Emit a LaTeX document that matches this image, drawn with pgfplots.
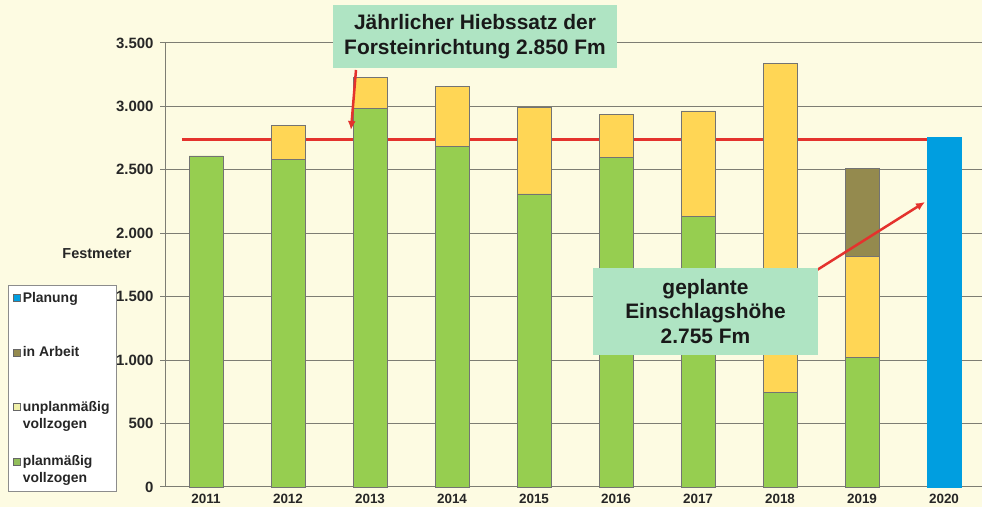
\documentclass[border=0pt]{standalone}
\usepackage{pgfplots}
\pgfplotsset{compat=1.18}
\usepackage{fontspec}
\setmainfont{Liberation Sans}
\usetikzlibrary{arrows.meta}
\definecolor{bgc}{RGB}{253,251,226}
\definecolor{cgreen}{RGB}{150,206,80}
\definecolor{cyellow}{RGB}{255,214,85}
\definecolor{colive}{RGB}{148,138,78}
\definecolor{cblue}{RGB}{0,158,224}
\definecolor{cmint}{RGB}{175,228,195}
\definecolor{cred}{RGB}{228,50,45}
\definecolor{cgrid}{RGB}{125,125,115}
\definecolor{cpale}{RGB}{240,240,170}
\begin{document}
\begin{tikzpicture}[x=1bp,y=1bp]
\fill[bgc] (0,0) rectangle (982,507);
\useasboundingbox (0,0) rectangle (982,507);
\begin{axis}[
  at={(165bp,20bp)}, anchor=south west,
  scale only axis, width=820bp, height=444bp,
  xmin=-0.5, xmax=9.5, ymin=0, ymax=3500,
  ybar stacked, bar width=34bp,
  axis x line=bottom, axis y line=left,
  axis line style={cgrid, line width=1bp, -},
  xtick=data,
  xticklabels={2011,2012,2013,2014,2015,2016,2017,2018,2019,2020},
  x tick style={draw=none},
  ytick={0,500,...,3500},
  y tick style={cgrid, line width=1bp},
  tick align=outside, major tick length=5bp,
  ymajorgrids, grid style={cgrid, line width=1bp},
  /pgf/number format/.cd, 1000 sep={.}, assume math mode=true,
  /pgfplots/.cd,
  yticklabel style={font=\fontsize{15}{15}\selectfont\bfseries, text=black!85, xshift=-3bp},
  xticklabel style={font=\fontsize{13.5}{13.5}\selectfont\bfseries, text=black!85, yshift=1bp},
  every axis plot/.append style={draw=black!55, line width=0.6bp},
  reverse legend,
  legend cell align=left,
  legend style={at={(-0.1915,0.455)}, anchor=north west, draw=black!45,
    fill=white, font=\fontsize{14}{17}\selectfont\bfseries, text=black!85,
    row sep=22bp, inner xsep=5bp, inner ysep=5bp,
    cells={align=left}},
  legend image code/.code={\fill[#1,draw=black!60] (0bp,5bp) rectangle (7bp,12bp);},
  clip=false,
]
\addplot[fill=cgreen, legend image code/.code={\fill[cgreen!80!gray,draw=black!60] (0bp,5bp) rectangle (7bp,12bp);}] coordinates {(0,2610) (1,2580) (2,2985) (3,2685) (4,2310) (5,2600) (6,2130) (7,745) (8,1020) (9,0)};
\addlegendentry{planmäßig\\vollzogen}
\addplot[fill=cyellow, legend image code/.code={\fill[cpale,draw=black!60] (0bp,5bp) rectangle (7bp,12bp);}] coordinates {(0,0) (1,270) (2,245) (3,470) (4,680) (5,340) (6,835) (7,2595) (8,800) (9,0)};
\addlegendentry{unplanmäßig\\vollzogen}
\addplot[fill=colive] coordinates {(0,0) (1,0) (2,0) (3,0) (4,0) (5,0) (6,0) (7,0) (8,690) (9,0)};
\addlegendentry{in Arbeit\\\strut}
\addplot[fill=cblue, draw=cblue] coordinates {(0,0) (1,0) (2,0) (3,0) (4,0) (5,0) (6,0) (7,0) (8,0) (9,2755)};
\addlegendentry{Planung\\\strut}
\draw[cred, line width=3bp] (axis cs:-0.293,2740) -- (axis cs:8.99,2740);
\end{axis}
\node[font=\fontsize{14.5}{14.5}\selectfont\bfseries, text=black!85] at (97,253) {Festmeter};
\draw[cred, line width=2.5bp, -{Latex[length=9bp,width=8bp]}] (356,437) -- (351,377);
\draw[cred, line width=2.5bp, -{Latex[length=9bp,width=8bp]}] (817,237) -- (925,305);
\node[fill=cmint, minimum width=284bp, minimum height=63bp, align=center,
  font=\fontsize{21}{25}\selectfont\bfseries, text=black!90] at (475,470.5)
  {Jährlicher Hiebssatz der\\Forsteinrichtung 2.850 Fm};
\node[fill=cmint, minimum width=225bp, minimum height=87bp, align=center,
  font=\fontsize{21}{25}\selectfont\bfseries, text=black!90] at (705.5,195.5)
  {geplante\\Einschlagshöhe\\2.755 Fm};
\end{tikzpicture}
\end{document}
